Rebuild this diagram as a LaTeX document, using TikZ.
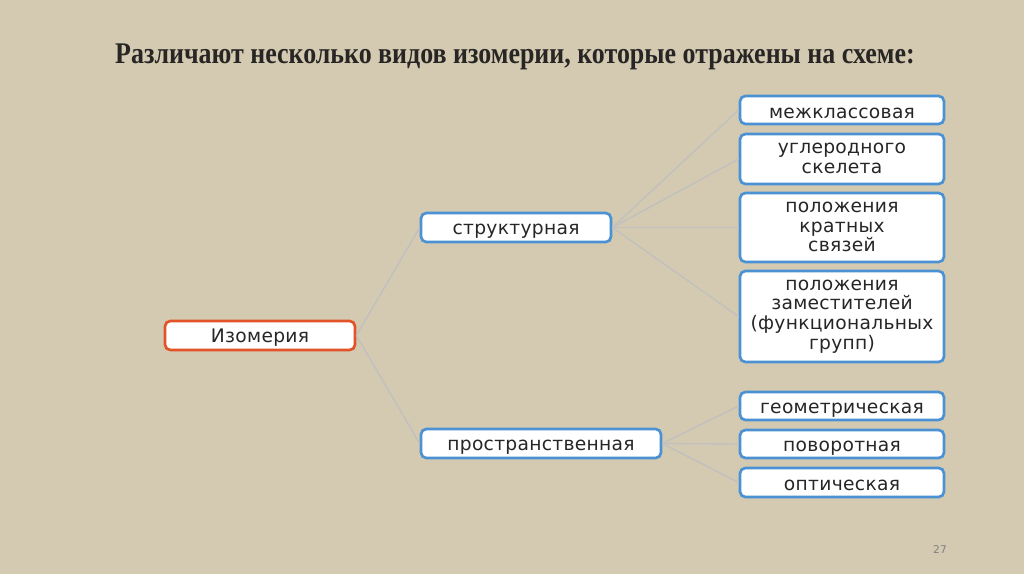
\documentclass[tikz,border=0pt]{standalone}
\usepackage{fontspec}
\setmainfont[LetterSpace=1.6]{DejaVu Sans}
\newfontfamily\titlefont[FakeStretch=0.865]{Liberation Serif}
\usepackage{tikz}
\usetikzlibrary{positioning}

\definecolor{paper}{RGB}{212,202,178}
\definecolor{boxblue}{RGB}{74,146,212}
\definecolor{boxred}{RGB}{226,84,40}
\definecolor{linkgray}{RGB}{192,192,190}
\definecolor{titlegray}{RGB}{40,38,36}

\tikzset{
  kind/.style={draw=boxblue, line width=2pt, fill=white, rounded corners=4pt,
    align=center, inner sep=0pt, font=\fontsize{14}{14.7}\selectfont,
    text=black!85, execute at begin node=\rule{0pt}{13.6pt},
    execute at end node=\rule[-1pt]{0pt}{1pt}},
  root/.style={kind, draw=boxred},
  link/.style={draw=linkgray, line width=1pt}
}

\begin{document}
\begin{tikzpicture}[x=0.75pt, y=-0.75pt]
\fill[paper] (0, 0) rectangle (1024, 574);
\useasboundingbox (0, 0) rectangle (1024, 574);

\node[text=titlegray, font=\titlefont\bfseries\fontsize{22.5}{26}\selectfont] (title) at (515, 57)
  {Различают несколько видов изомерии, которые отражены на схеме:};

% first level
\node[root, minimum width=190*0.75pt, minimum height=29*0.75pt] (izo) at (260, 335.5){Изомерия};

\node[kind, minimum width=190*0.75pt, minimum height=29*0.75pt] (struct) at (516, 227.5){структурная};
\node[kind, minimum width=240*0.75pt, minimum height=29*0.75pt] (space) at (541, 443.5){пространственная};

% structural kinds
\node[kind, minimum width=204*0.75pt, minimum height=28*0.75pt] (mezh) at (842, 110){межклассовая};
\node[kind, minimum width=204*0.75pt, minimum height=50*0.75pt] (skel) at (842, 159){углеродного\\скелета};
\node[kind, minimum width=204*0.75pt, minimum height=69*0.75pt] (bond) at (842, 227.5){положения\\кратных\\связей};
\node[kind, minimum width=204*0.75pt, minimum height=91*0.75pt] (subst) at (842, 316.5){положения\\заместителей\\(функциональных\\групп)};

% spatial kinds
\node[kind, minimum width=204*0.75pt, minimum height=28*0.75pt] (geom) at (842, 406){геометрическая};
\node[kind, minimum width=204*0.75pt, minimum height=28*0.75pt] (turn) at (842, 444){поворотная};
\node[kind, minimum width=204*0.75pt, minimum height=29*0.75pt] (opt) at (842, 482.5){оптическая};

\draw[link] (izo.east) -- (struct.west);
\draw[link] (izo.east) -- (space.west);
\foreach \k in {mezh, skel, bond, subst}
  \draw[link] (struct.east) -- (\k.west);
\foreach \k in {geom, turn, opt}
  \draw[link] (space.east) -- (\k.west);

\node[text=gray, font=\fontsize{8}{9}\selectfont] (page) at (940, 550){27};
\end{tikzpicture}
\end{document}
